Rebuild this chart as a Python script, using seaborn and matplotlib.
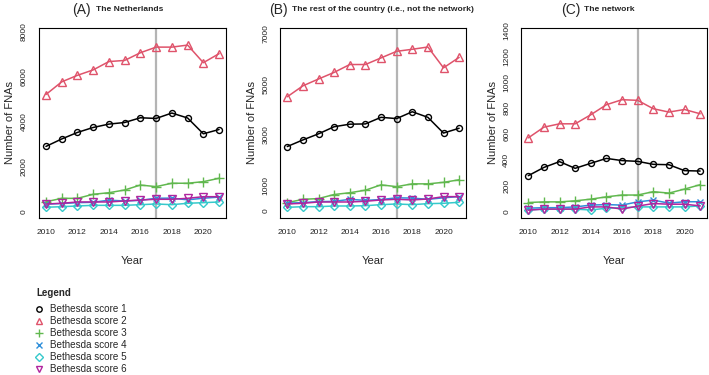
import numpy as np
import pandas as pd
import matplotlib
matplotlib.use("Agg")
import matplotlib.pyplot as plt
from matplotlib.lines import Line2D
import seaborn as sns

years = list(range(2010, 2022))
scores = ["Bethesda score 1", "Bethesda score 2", "Bethesda score 3",
          "Bethesda score 4", "Bethesda score 5", "Bethesda score 6"]

# (A) The Netherlands
nl_s1 = [2890, 3220, 3510, 3730, 3880, 3950, 4160, 4130, 4370, 4150, 3450, 3640]
nl_s2 = [5190, 5750, 6040, 6280, 6650, 6700, 7040, 7290, 7290, 7380, 6600, 7000]
nl_s3 = [440, 590, 590, 770, 840, 960, 1180, 1110, 1260, 1260, 1330, 1480]
nl_s4 = [336, 360, 400, 416, 510, 474, 500, 595, 600, 525, 596, 646]
nl_s5 = [195, 222, 252, 281, 281, 281, 310, 341, 310, 372, 399, 430]
nl_s6 = [341, 372, 430, 430, 430, 474, 518, 549, 549, 593, 664, 664]

# (B) The rest of the country
rest_s1 = [2540, 2800, 3040, 3320, 3420, 3430, 3690, 3640, 3910, 3690, 3070, 3260]
rest_s2 = [4500, 4930, 5200, 5460, 5770, 5770, 6030, 6290, 6370, 6460, 5640, 6050]
rest_s3 = [330, 460, 490, 650, 720, 820, 1030, 960, 1070, 1070, 1130, 1230]
rest_s4 = [310, 330, 370, 380, 460, 420, 450, 520, 510, 460, 520, 570]
rest_s5 = [145, 171, 171, 198, 198, 210, 251, 277, 251, 290, 304, 343]
rest_s6 = [277, 304, 356, 356, 356, 383, 435, 462, 435, 474, 567, 567]

# (C) The network
net_s1 = [278, 342, 387, 335, 374, 412, 395, 389, 366, 363, 317, 314]
net_s2 = [571, 654, 680, 680, 750, 828, 867, 862, 797, 771, 791, 758]
net_s3 = [70, 75, 75, 83, 96, 114, 128, 128, 154, 143, 174, 208]
net_s4 = [26, 30, 30, 36, 50, 54, 50, 75, 89, 65, 76, 76]
net_s5 = [12, 19, 19, 19, 12, 26, 30, 36, 36, 36, 36, 44]
net_s6 = [11, 19, 19, 19, 36, 36, 19, 42, 62, 57, 57, 44]

colors = ["#000000", "#DF536B", "#61B84F", "#2F8FDA", "#36C9CB", "#B0249E"]
markers = ["o", "^", "+", "x", "D", "v"]
msizes = [4.3, 5.2, 6.5, 4.6, 4.0, 5.2]

sns.set_style("white")
plt.rcParams["font.family"] = ["Liberation Sans", "DejaVu Sans"]

fig = plt.figure(figsize=(7.09, 3.75), dpi=100)
W, H = 709, 375


def px_axes(left, right, top, bottom):
    return fig.add_axes([left / W, 1 - bottom / H, (right - left) / W, (bottom - top) / H])


panels = [
    dict(data=[nl_s1, nl_s2, nl_s3, nl_s4, nl_s5, nl_s6], box=(39, 226, 27.7, 218),
         ylim=(-280, 8150), yticks=np.arange(0, 8001, 1000), ylab_keep=[0, 2000, 4000, 6000, 8000],
         tag="(A)", title="The Netherlands", tx=(72, 96)),
    dict(data=[rest_s1, rest_s2, rest_s3, rest_s4, rest_s5, rest_s6], box=(280.4, 466, 27.7, 218),
         ylim=(-275, 7220), yticks=np.arange(0, 7001, 1000), ylab_keep=[0, 1000, 3000, 5000, 7000],
         tag="(B)", title="The rest of the country (i.e., not the network)", tx=(269, 291.5)),
    dict(data=[net_s1, net_s2, net_s3, net_s4, net_s5, net_s6], box=(521.4, 707, 27.7, 218),
         ylim=(-50, 1425), yticks=np.arange(0, 1401, 200), ylab_keep=list(range(0, 1401, 200)),
         tag="(C)", title="The network", tx=(561.5, 583.5)),
]

for p in panels:
    ax = px_axes(*p["box"])
    ax.axvline(2017, color="#b4b4b4", lw=1.6, zorder=1)
    for vals, c, m, ms in zip(p["data"], colors, markers, msizes):
        df = pd.DataFrame({"Year": years, "FNAs": vals})
        sns.lineplot(data=df, x="Year", y="FNAs", ax=ax, color=c, marker=m,
                     markersize=ms, markerfacecolor="none", markeredgecolor=c,
                     markeredgewidth=1.0, lw=1.1, zorder=3)
    ax.set_xlim(2009.56, 2021.44)
    ax.set_ylim(*p["ylim"])
    ax.set_xticks(years)
    ax.set_xticklabels([str(y) if y % 2 == 0 else "" for y in years])
    ax.set_yticks(p["yticks"])
    ax.set_yticklabels([str(int(v)) if v in p["ylab_keep"] else "" for v in p["yticks"]],
                       rotation=90, va="center")
    ax.tick_params(axis="both", direction="out", length=5, width=0.8, color="black",
                   labelsize=6, labelcolor="#222222", pad=3)
    for s in ax.spines.values():
        s.set_visible(True)
        s.set_color("black")
        s.set_linewidth(0.8)
    ax.set_xlabel("Year", fontsize=8, labelpad=14)
    ax.set_ylabel("Number of FNAs", fontsize=8, labelpad=4)
    ax.grid(False)
    fig.text(p["tx"][0] / W, 1 - 10 / H, p["tag"], fontsize=10, va="center", ha="left")
    fig.text(p["tx"][1] / W, 1 - 9.5 / H, p["title"], fontsize=6.1, fontweight="bold",
             va="center", ha="left")

handles = [Line2D([], [], color=c, marker=m, markersize=ms * 0.9, markerfacecolor="none",
                  markeredgewidth=1.0, linestyle="none")
           for c, m, ms in zip(colors, markers, msizes)]
fig.text(36 / W, 1 - 293 / H, "Legend", fontsize=7, fontweight="bold", va="center", ha="left")
leg = fig.legend(handles, scores, loc="upper left", bbox_to_anchor=(34.5 / W, 1 - 304.5 / H),
                 frameon=False, fontsize=7.1,
                 handlelength=1.0, handletextpad=0.6, labelspacing=0.2, borderaxespad=0,
                 borderpad=0)

fig.savefig("out.png", dpi=100)
